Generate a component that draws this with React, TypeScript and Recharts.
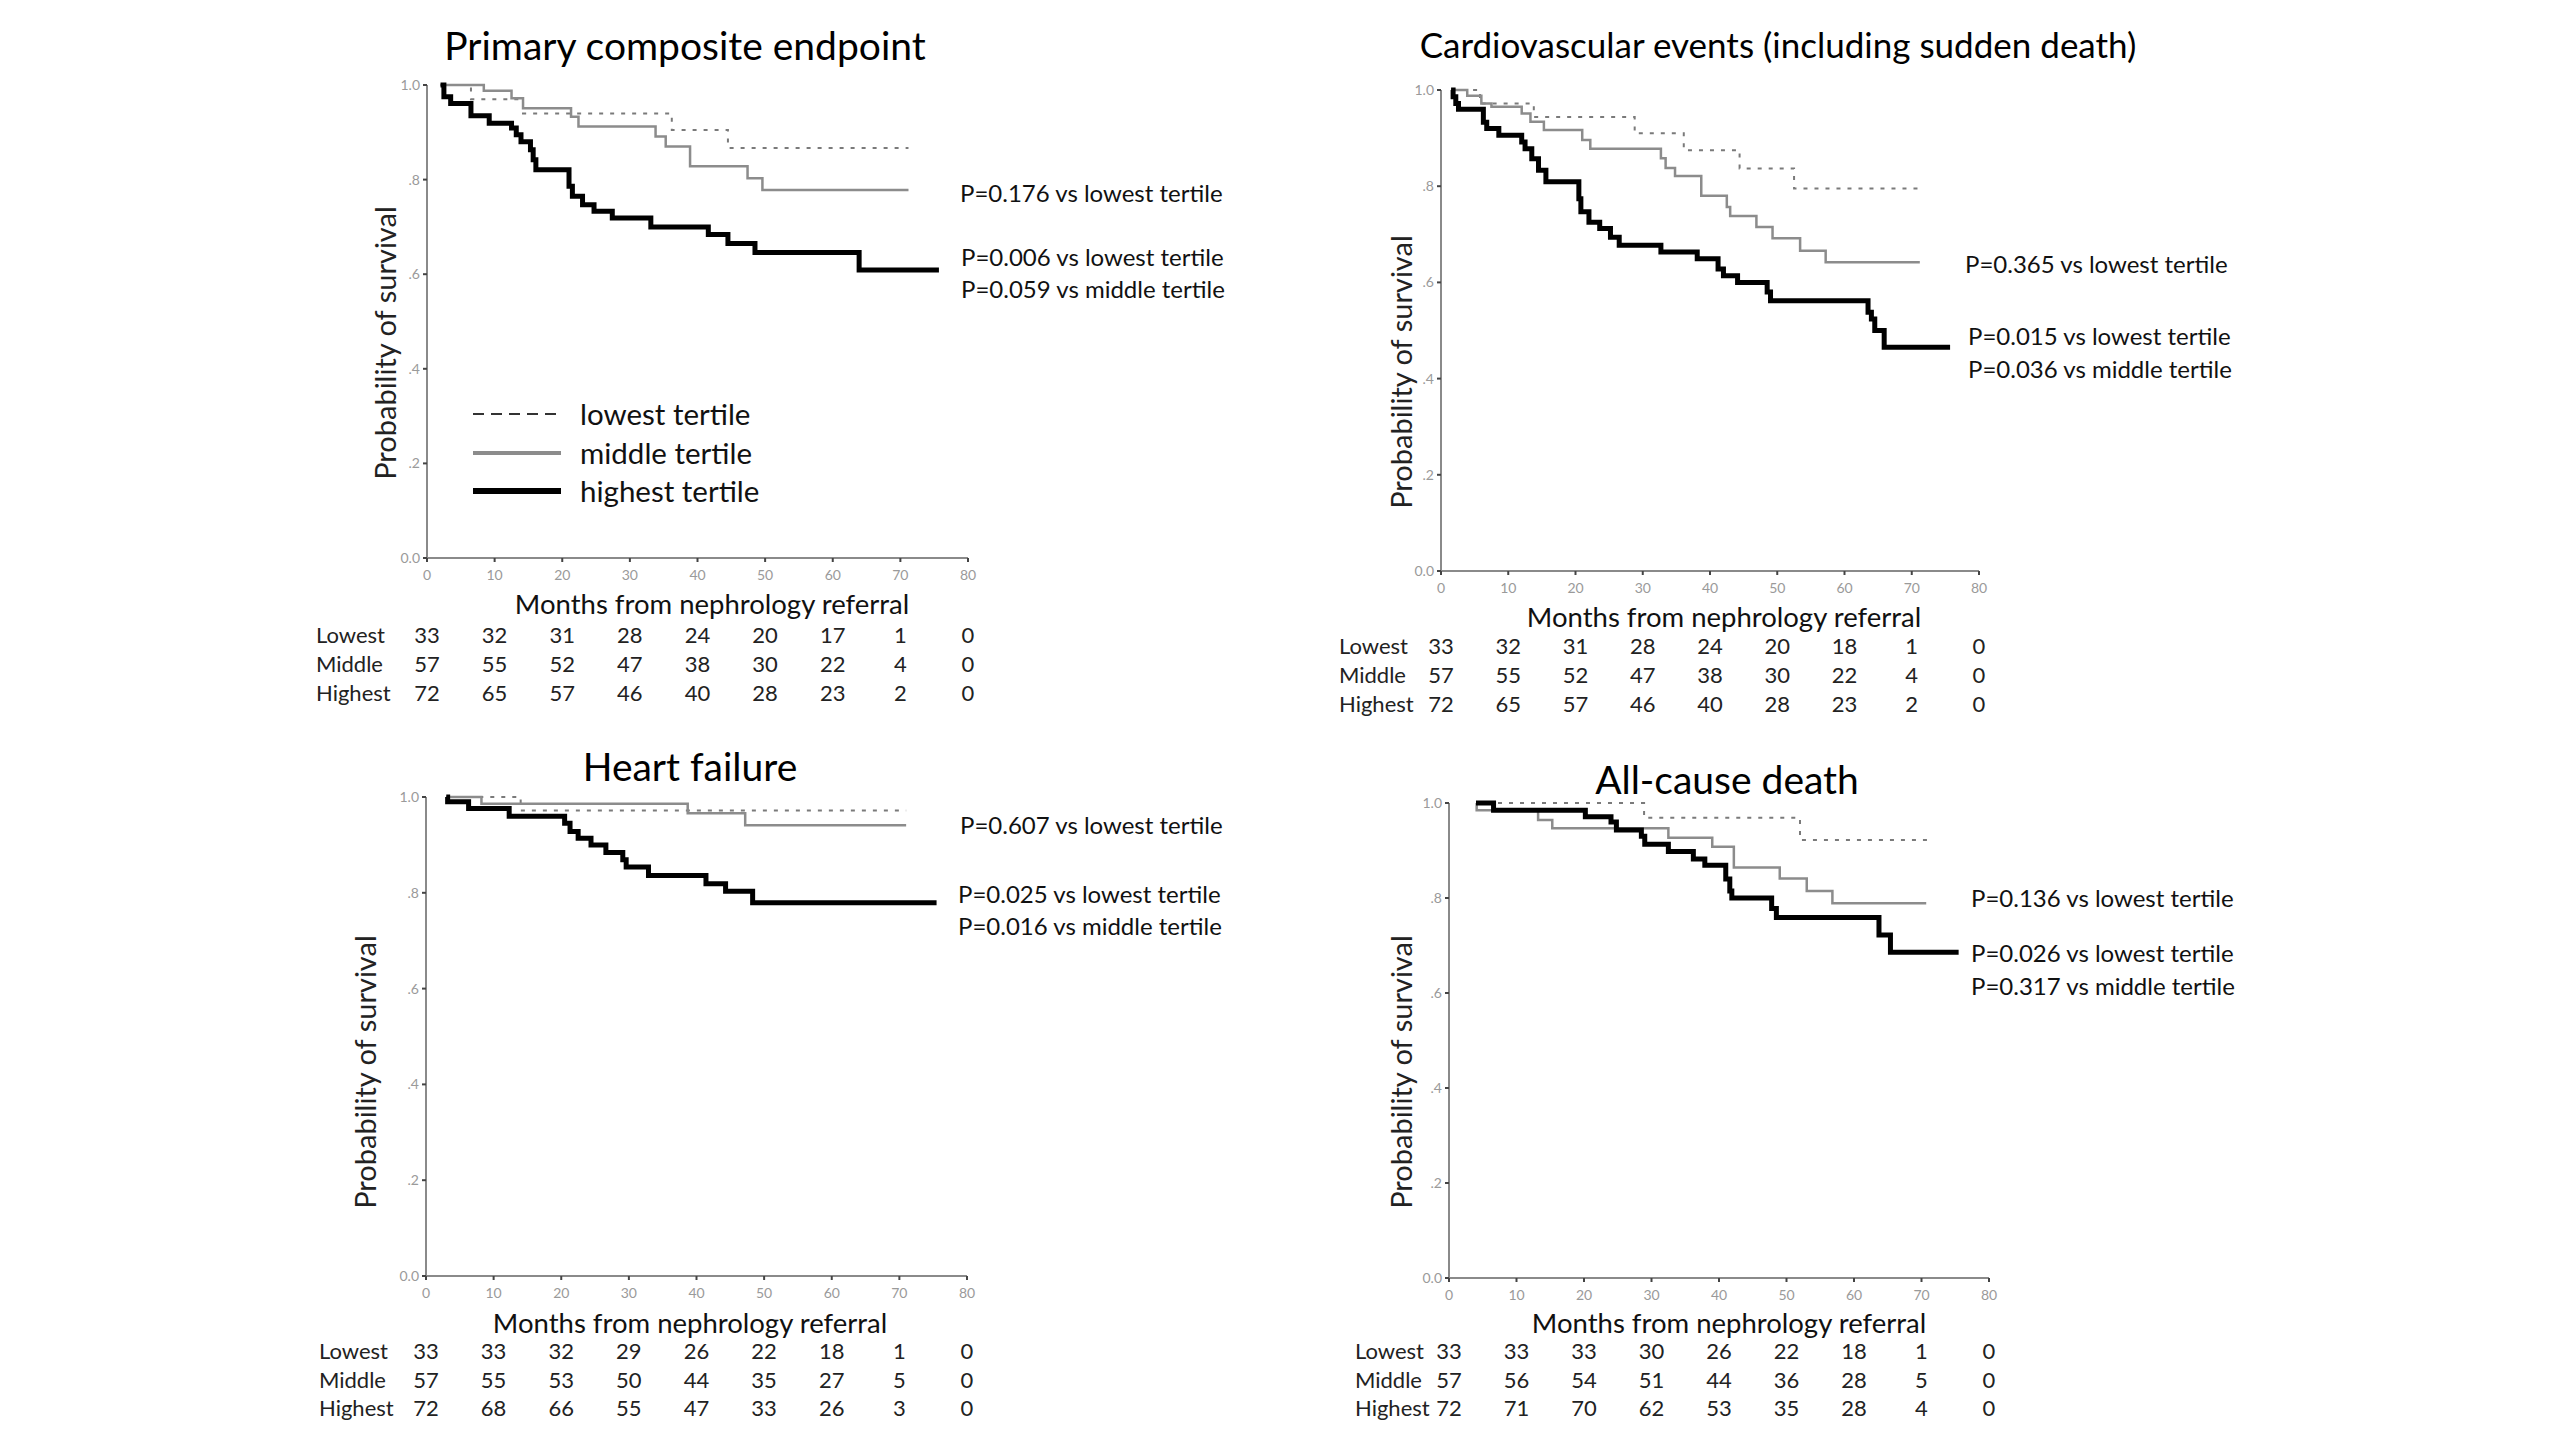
import React from 'react';
import { LineChart, Line, XAxis, YAxis } from 'recharts';

// survival curves: [months, survival probability]
const pceLowest = [[2, 1], [6.5, 0.97], [14.2, 0.94], [36.2, 0.905], [44.5, 0.867], [71.2, 0.867]];
const pceMiddle = [[2, 1], [8.4, 0.988], [12.5, 0.972], [14.2, 0.951], [21.3, 0.933], [22.4, 0.912], [33.8, 0.891], [35.3, 0.87], [38.9, 0.828], [47.4, 0.803], [49.6, 0.778], [71.2, 0.778]];
const pceHighest = [[2, 1], [2.5, 0.975], [3.5, 0.961], [6.5, 0.935], [9.2, 0.919], [12.5, 0.909], [13.2, 0.895], [13.9, 0.88], [15.3, 0.863], [15.7, 0.842], [16.1, 0.821], [21, 0.786], [21.5, 0.765], [23, 0.747], [24.7, 0.733], [27.4, 0.719], [33.1, 0.7], [41.6, 0.684], [44.5, 0.665], [48.5, 0.646], [63.9, 0.609], [75.7, 0.609]];

const cvLowest = [[1.5, 1], [5.8, 0.972], [13.8, 0.944], [28.8, 0.91], [36.1, 0.875], [44.4, 0.837], [52.5, 0.795], [71.2, 0.795]];
const cvMiddle = [[1.5, 1], [3.9, 0.988], [6, 0.972], [7.5, 0.965], [12, 0.951], [13.3, 0.934], [15.3, 0.917], [21, 0.896], [22.2, 0.878], [32.7, 0.858], [33.4, 0.838], [34.8, 0.821], [38.7, 0.78], [42.5, 0.757], [43, 0.738], [46.9, 0.715], [49.3, 0.692], [53.4, 0.666], [57.2, 0.642], [71.2, 0.642]];
const cvHighest = [[1.5, 1], [1.8, 0.986], [2.2, 0.972], [2.6, 0.96], [6.3, 0.933], [6.8, 0.92], [8.6, 0.906], [12, 0.892], [12.5, 0.878], [13.5, 0.857], [14.5, 0.833], [15.6, 0.809], [20.5, 0.774], [20.8, 0.747], [22, 0.725], [23.6, 0.712], [25.2, 0.694], [26.5, 0.677], [32.7, 0.663], [38.1, 0.649], [41.2, 0.628], [42, 0.614], [44.1, 0.6], [48.5, 0.58], [49, 0.562], [63.5, 0.538], [64, 0.524], [64.5, 0.5], [65.9, 0.465], [75.7, 0.465]];

const hfLowest = [[3, 1], [14, 0.972], [71, 0.972]];
const hfMiddle = [[3, 1], [8.2, 0.986], [38.7, 0.966], [47.2, 0.941], [71, 0.941]];
const hfHighest = [[3, 1], [3.2, 0.99], [6.3, 0.976], [12.3, 0.96], [20.5, 0.945], [21.3, 0.928], [22.5, 0.914], [24.4, 0.9], [26.6, 0.884], [29.1, 0.869], [29.6, 0.854], [32.9, 0.836], [41.4, 0.819], [44.3, 0.803], [48.3, 0.779], [75.5, 0.779]];

const acdLowest = [[4, 1], [28.9, 0.969], [52, 0.922], [71, 0.922]];
const acdMiddle = [[4, 1], [4.1, 0.985], [13.2, 0.964], [15.3, 0.947], [32.5, 0.927], [39, 0.908], [42.2, 0.864], [49, 0.841], [53, 0.815], [56.8, 0.789], [70.7, 0.789]];
const acdHighest = [[4, 1], [6.6, 0.985], [20.2, 0.971], [24, 0.96], [24.8, 0.943], [28.5, 0.93], [29, 0.913], [32.5, 0.898], [36.2, 0.882], [37.9, 0.869], [41, 0.84], [41.6, 0.815], [41.9, 0.8], [47.8, 0.778], [48.5, 0.759], [63.7, 0.722], [65.4, 0.686], [75.5, 0.686]];

// numbers at risk at 0,10,...,80 months
const riskLabels = ['Lowest', 'Middle', 'Highest'];
const pceRisk = [[33, 32, 31, 28, 24, 20, 17, 1, 0], [57, 55, 52, 47, 38, 30, 22, 4, 0], [72, 65, 57, 46, 40, 28, 23, 2, 0]];
const cvRisk = [[33, 32, 31, 28, 24, 20, 18, 1, 0], [57, 55, 52, 47, 38, 30, 22, 4, 0], [72, 65, 57, 46, 40, 28, 23, 2, 0]];
const hfRisk = [[33, 33, 32, 29, 26, 22, 18, 1, 0], [57, 55, 53, 50, 44, 35, 27, 5, 0], [72, 68, 66, 55, 47, 33, 26, 3, 0]];
const acdRisk = [[33, 33, 33, 30, 26, 22, 18, 1, 0], [57, 56, 54, 51, 44, 36, 28, 5, 0], [72, 71, 70, 62, 53, 35, 28, 4, 0]];

const xTicks = [0, 10, 20, 30, 40, 50, 60, 70, 80];
const yTicks = [0, 0.2, 0.4, 0.6, 0.8, 1];
const legendNames = ['lowest tertile', 'middle tertile', 'highest tertile'];

const FONT = 'Lato, "Open Sans", sans-serif';

const toPoints = (arr: number[][]) => arr.map(([t, s]) => ({ t, s }));

const styles = [
  { stroke: '#7a7a7a', width: 2, dash: '4 7' },
  { stroke: '#8c8c8c', width: 2.5, dash: undefined },
  { stroke: '#000000', width: 5, dash: undefined },
];

const panels = [
  {
    title: 'Primary composite endpoint',
    titleSize: 39,
    series: [pceLowest, pceMiddle, pceHighest],
    risk: pceRisk,
    plot: { left: 427, top: 85, right: 968, bottom: 558 },
    titlePos: { x: 685, y: 45 },
    yLabel: { x: 384, y: 343 },
    xTitle: { x: 712, y: 604 },
    riskY: [635, 664, 693],
    riskLabelX: 316,
    pvals: [
      { x: 960, y: 193, text: 'P=0.176 vs lowest tertile' },
      { x: 961, y: 257, text: 'P=0.006 vs lowest tertile' },
      { x: 961, y: 289, text: 'P=0.059 vs middle tertile' },
    ],
    legend: true,
  },
  {
    title: 'Cardiovascular events (including sudden death)',
    titleSize: 35,
    series: [cvLowest, cvMiddle, cvHighest],
    risk: cvRisk,
    plot: { left: 1441, top: 90, right: 1979, bottom: 571 },
    titlePos: { x: 1778, y: 44 },
    yLabel: { x: 1400, y: 372 },
    xTitle: { x: 1724, y: 617 },
    riskY: [646, 675, 704],
    riskLabelX: 1339,
    pvals: [
      { x: 1965, y: 264, text: 'P=0.365 vs lowest tertile' },
      { x: 1968, y: 336, text: 'P=0.015 vs lowest tertile' },
      { x: 1968, y: 369, text: 'P=0.036 vs middle tertile' },
    ],
    legend: false,
  },
  {
    title: 'Heart failure',
    titleSize: 39,
    series: [hfLowest, hfMiddle, hfHighest],
    risk: hfRisk,
    plot: { left: 426, top: 797, right: 967, bottom: 1276 },
    titlePos: { x: 690, y: 766 },
    yLabel: { x: 364, y: 1072 },
    xTitle: { x: 690, y: 1323 },
    riskY: [1351, 1380, 1408],
    riskLabelX: 319,
    pvals: [
      { x: 960, y: 825, text: 'P=0.607 vs lowest tertile' },
      { x: 958, y: 894, text: 'P=0.025 vs lowest tertile' },
      { x: 958, y: 926, text: 'P=0.016 vs middle tertile' },
    ],
    legend: false,
  },
  {
    title: 'All-cause death',
    titleSize: 39,
    series: [acdLowest, acdMiddle, acdHighest],
    risk: acdRisk,
    plot: { left: 1449, top: 803, right: 1989, bottom: 1278 },
    titlePos: { x: 1727, y: 779 },
    yLabel: { x: 1400, y: 1072 },
    xTitle: { x: 1729, y: 1323 },
    riskY: [1351, 1380, 1408],
    riskLabelX: 1355,
    pvals: [
      { x: 1971, y: 898, text: 'P=0.136 vs lowest tertile' },
      { x: 1971, y: 953, text: 'P=0.026 vs lowest tertile' },
      { x: 1971, y: 986, text: 'P=0.317 vs middle tertile' },
    ],
    legend: false,
  },
];

const Txt = ({ x, y, size, anchor = 'start', color = '#111', rotate = 0, children }: any) => {
  const tx = anchor === 'middle' ? '-50%' : anchor === 'end' ? '-100%' : '0';
  return (
    <div
      style={{
        position: 'absolute',
        left: x,
        top: y,
        fontSize: size,
        lineHeight: 1,
        whiteSpace: 'nowrap',
        color,
        transform: `translate(${tx}, -50%)${rotate ? ` rotate(${rotate}deg)` : ''}`,
      }}
    >
      {children}
    </div>
  );
};

const fmtY = (v: number) => (v === 0 ? '0.0' : v === 1 ? '1.0' : v.toFixed(1).replace(/^0/, ''));

const Y_AXIS_W = 60;
const X_AXIS_H = 40;
const M_TOP = 10;
const M_RIGHT = 12;

const Panel = ({ p }: any) => {
  const plotW = p.plot.right - p.plot.left;
  const plotH = p.plot.bottom - p.plot.top;
  const width = plotW + Y_AXIS_W + M_RIGHT;
  const height = plotH + M_TOP + X_AXIS_H;
  return (
    <>
      <div style={{ position: 'absolute', left: p.plot.left - Y_AXIS_W, top: p.plot.top - M_TOP }}>
        <LineChart width={width} height={height} margin={{ top: M_TOP, right: M_RIGHT, bottom: 0, left: 0 }}>
          <XAxis
            dataKey="t"
            type="number"
            domain={[0, 80]}
            ticks={xTicks}
            allowDuplicatedCategory={false}
            height={X_AXIS_H}
            stroke="#8a8a8a"
            strokeWidth={2}
            tickSize={4}
            tickMargin={8}
            tickLine={{ stroke: '#444', strokeWidth: 2 }}
            tick={{ fontSize: 14, fill: '#9a9a9a', fontFamily: FONT }}
          />
          <YAxis
            dataKey="s"
            type="number"
            domain={[0, 1]}
            ticks={yTicks}
            width={Y_AXIS_W}
            stroke="#8a8a8a"
            strokeWidth={2}
            tickSize={4}
            tickMargin={3}
            tickLine={{ stroke: '#444', strokeWidth: 2 }}
            tickFormatter={fmtY}
            tick={{ fontSize: 14, fill: '#9a9a9a', fontFamily: FONT }}
          />
          {p.series.map((s: number[][], i: number) => (
            <Line
              key={i}
              data={toPoints(s)}
              dataKey="s"
              type="stepAfter"
              stroke={styles[i].stroke}
              strokeWidth={styles[i].width}
              strokeDasharray={styles[i].dash}
              dot={false}
              activeDot={false}
              isAnimationActive={false}
            />
          ))}
        </LineChart>
      </div>
      <Txt x={p.titlePos.x} y={p.titlePos.y} size={p.titleSize} anchor="middle" color="#000">{p.title}</Txt>
      <Txt x={p.yLabel.x} y={p.yLabel.y} size={29} anchor="middle" rotate={-90} color="#222">Probability of survival</Txt>
      <Txt x={p.xTitle.x} y={p.xTitle.y} size={27.5} anchor="middle" color="#111">Months from nephrology referral</Txt>
      {p.pvals.map((v: any, i: number) => (
        <Txt key={i} x={v.x} y={v.y} size={24} color="#111">{v.text}</Txt>
      ))}
      {riskLabels.map((lab, r) => (
        <React.Fragment key={lab}>
          <Txt x={p.riskLabelX} y={p.riskY[r]} size={22} color="#222">{lab}</Txt>
          {p.risk[r].map((n: number, k: number) => (
            <Txt key={k} x={p.plot.left + (xTicks[k] / 80) * plotW} y={p.riskY[r]} size={22} anchor="middle" color="#222">
              {n}
            </Txt>
          ))}
        </React.Fragment>
      ))}
      {p.legend &&
        legendNames.map((name, i) => {
          const y = [414, 453, 491][i];
          return (
            <React.Fragment key={name}>
              <svg style={{ position: 'absolute', left: 473, top: y - 5 }} width={90} height={10}>
                <line
                  x1={0}
                  y1={5}
                  x2={88}
                  y2={5}
                  stroke={i === 0 ? '#333' : styles[i].stroke}
                  strokeWidth={i === 0 ? 2 : i === 1 ? 4 : 6}
                  strokeDasharray={i === 0 ? '11 7' : undefined}
                />
              </svg>
              <Txt x={580} y={y} size={29.5} color="#111">{name}</Txt>
            </React.Fragment>
          );
        })}
    </>
  );
};

export default function App() {
  return (
    <div style={{ position: 'absolute', left: 0, top: 0, width: 2560, height: 1440, background: '#fff', fontFamily: FONT, overflow: 'hidden' }}>
      {panels.map((p) => (
        <Panel key={p.title} p={p} />
      ))}
    </div>
  );
}
